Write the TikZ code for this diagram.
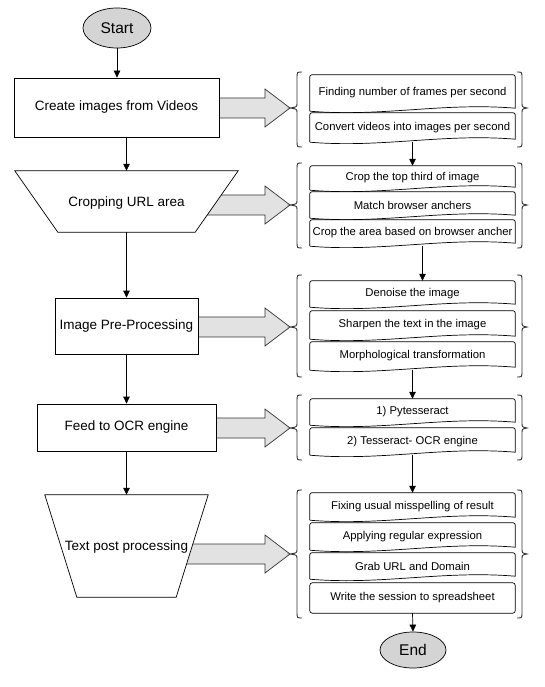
\documentclass[tikz,border=0pt]{standalone}
\usepackage{fontspec}
\setmainfont{Liberation Sans}
\usetikzlibrary{calc,arrows.meta,shapes.geometric}
\pgfdeclarelayer{bg}
\pgfdeclarelayer{mid}
\pgfsetlayers{bg,mid,main}
\definecolor{ovalgray}{RGB}{212,212,212}
\definecolor{arrgray}{RGB}{226,226,226}
\definecolor{bracegray}{RGB}{50,50,50}
\tikzset{
  conn/.style={draw=black,line width=0.7pt,-{Triangle[length=7pt,width=6.5pt]}},
  oval/.style={ellipse,draw=black,line width=0.7pt,fill=ovalgray,inner sep=0pt,
    font=\fontsize{15.5}{18}\selectfont},
  mainbox/.style={rectangle,draw=black,line width=0.7pt,fill=white,inner sep=0pt,
    font=\fontsize{13.5}{16}\selectfont},
  trapnode/.style={rectangle,draw=none,inner sep=0pt,font=\fontsize{13.5}{16}\selectfont},
  trapline/.style={draw=black,line width=0.7pt,fill=white},
  docnode/.style={rectangle,draw=none,inner sep=0pt,minimum width=205pt,
    font=\fontsize{11.3}{13}\selectfont},
  docline/.style={draw=black,line width=0.7pt},
  bracestyle/.style={draw=bracegray,line width=0.9pt},
  blockarrow/.style={draw=black!80,line width=0.7pt,fill=arrgray},
}
\newcommand\docbox[4]{%
  \node[docnode,minimum height={#3-#2}] (#1) at (412.5,{(#2+#3)/2}) {#4};
  \draw[docline] (#1.south west) [rounded corners=2pt] -- (#1.north west) -- (#1.north east)
    [sharp corners] -- ($(#1.south east)+(0,-3)$) .. controls +(-72,-6) and +(72,6) .. (#1.south west);}
\newcommand\finalstepbox[4]{%
  \node[docnode,minimum height={#3-#2}] (#1) at (412.5,{(#2+#3)/2}) {#4};
  \draw[docline,rounded corners=2.5pt] (#1.south west) rectangle (#1.north east);}
\newcommand\grpbrace[4]{% name, top, bottom, mid
  \coordinate (#1) at (290,#4);
  \draw[bracestyle] (302,#2) .. controls (297,#2) .. (297,#2+6) -- (297,#4-5)
    .. controls (297,#4-1) .. (#1) .. controls (297,#4+1) .. (297,#4+5)
    -- (297,#3-6) .. controls (297,#3) .. (302,#3);
  \draw[bracestyle] (517,#2) .. controls (522,#2) .. (522,#2+6) -- (522,#4-5)
    .. controls (522,#4-1) .. (527,#4) .. controls (522,#4+1) .. (522,#4+5)
    -- (522,#3-6) .. controls (522,#3) .. (517,#3);}
\newcommand\blockarr[2]{%
  \begin{pgfonlayer}{bg}
  \draw[blockarrow] let \p1=(#2), \p2=(#1.center) in
    (\x2,\y1+10pt) -- (\x1-25pt,\y1+10pt) -- (\x1-25pt,\y1+19pt) -- (\x1,\y1)
    -- (\x1-25pt,\y1-19pt) -- (\x1-25pt,\y1-10pt) -- (\x2,\y1-10pt) -- cycle;
  \end{pgfonlayer}}
\begin{document}
\begin{tikzpicture}[x=1pt,y=-1pt]
\useasboundingbox (0,0) rectangle (545,687);

% left column
\node[oval,minimum width=68pt,minimum height=40pt] (start) at (117,28) {Start};
\node[mainbox,minimum width=205pt,minimum height=59pt] (box1) at (116.5,107.5) {Create images from Videos};
\node[trapnode,minimum width=223pt,minimum height=61pt] (crop) at (126.5,201.5) {};
\begin{pgfonlayer}{mid}
\draw[trapline] (crop.north west) -- (crop.north east) -- ($(crop.south east)+(-43,0)$)
  -- ($(crop.south west)+(43,0)$) -- cycle;
\end{pgfonlayer}
\node[trapnode] at (126.5,203) {Cropping URL area};
\node[mainbox,minimum width=143pt,minimum height=56pt] (box3) at (126.5,326) {Image Pre-Processing};
\node[mainbox,minimum width=179pt,minimum height=47pt] (box4) at (126.5,427.5) {Feed to OCR engine};
\node[trapnode,minimum width=163pt,minimum height=102pt] (post) at (126.5,546) {};
\begin{pgfonlayer}{mid}
\draw[trapline] (post.north west) -- (post.north east) -- ($(post.south east)+(-32,0)$)
  -- ($(post.south west)+(32,0)$) -- cycle;
\end{pgfonlayer}
\node[trapnode] at (126.5,547) {Text post processing};

\draw[conn] (start.south) -- (box1.north -| start.south);
\draw[conn] (box1.south -| crop.north) -- (crop.north);
\draw[conn] (crop.south) -- (box3.north);
\draw[conn] (box3.south) -- (box4.north);
\draw[conn] (box4.south) -- (post.north);

% right column
\grpbrace{g1}{72}{147}{108}
\docbox{a1}{75}{111}{Finding number of frames per second}
\docbox{a2}{113}{142}{Convert videos into images per second}

\grpbrace{g2}{163}{248}{205}
\docbox{b1}{166}{190}{Crop the top third of image}
\docbox{b2}{192}{218}{Match browser anchers}
\docbox{b3}{220}{246}{Crop the area based on browser ancher}

\grpbrace{g3}{275}{377}{327}
\docbox{c1}{281}{307}{Denoise the image}
\docbox{c2}{311}{339}{Sharpen the text in the image}
\docbox{c3}{342}{370}{Morphological transformation}

\grpbrace{g4}{395}{460}{428}
\docbox{d1}{399}{425}{1) Pytesseract}
\docbox{d2}{428}{455}{2) Tesseract- OCR engine}

\grpbrace{g5}{490}{618}{554}
\docbox{e1}{493}{520}{Fixing usual misspelling of result}
\docbox{e2}{523}{550}{Applying regular expression}
\docbox{e3}{553}{579}{Grab URL and Domain}
\finalstepbox{e4}{583}{613}{Write the session to spreadsheet}

\node[oval,minimum width=66pt,minimum height=36pt] (end) at (413,650) {End};

\draw[conn] (a2.south) -- (b1.north);
\draw[conn] ([xshift=10pt]b3.south) -- ([xshift=10pt]c1.north);
\draw[conn] (c3.south) -- (d1.north);
\draw[conn] (d2.south) -- (e1.north);
\draw[conn] (e4.south) -- (end.north);

% block arrows
\blockarr{box1}{g1}
\blockarr{crop}{g2}
\blockarr{box3}{g3}
\blockarr{box4}{g4}
\blockarr{post}{g5}
\end{tikzpicture}
\end{document}
